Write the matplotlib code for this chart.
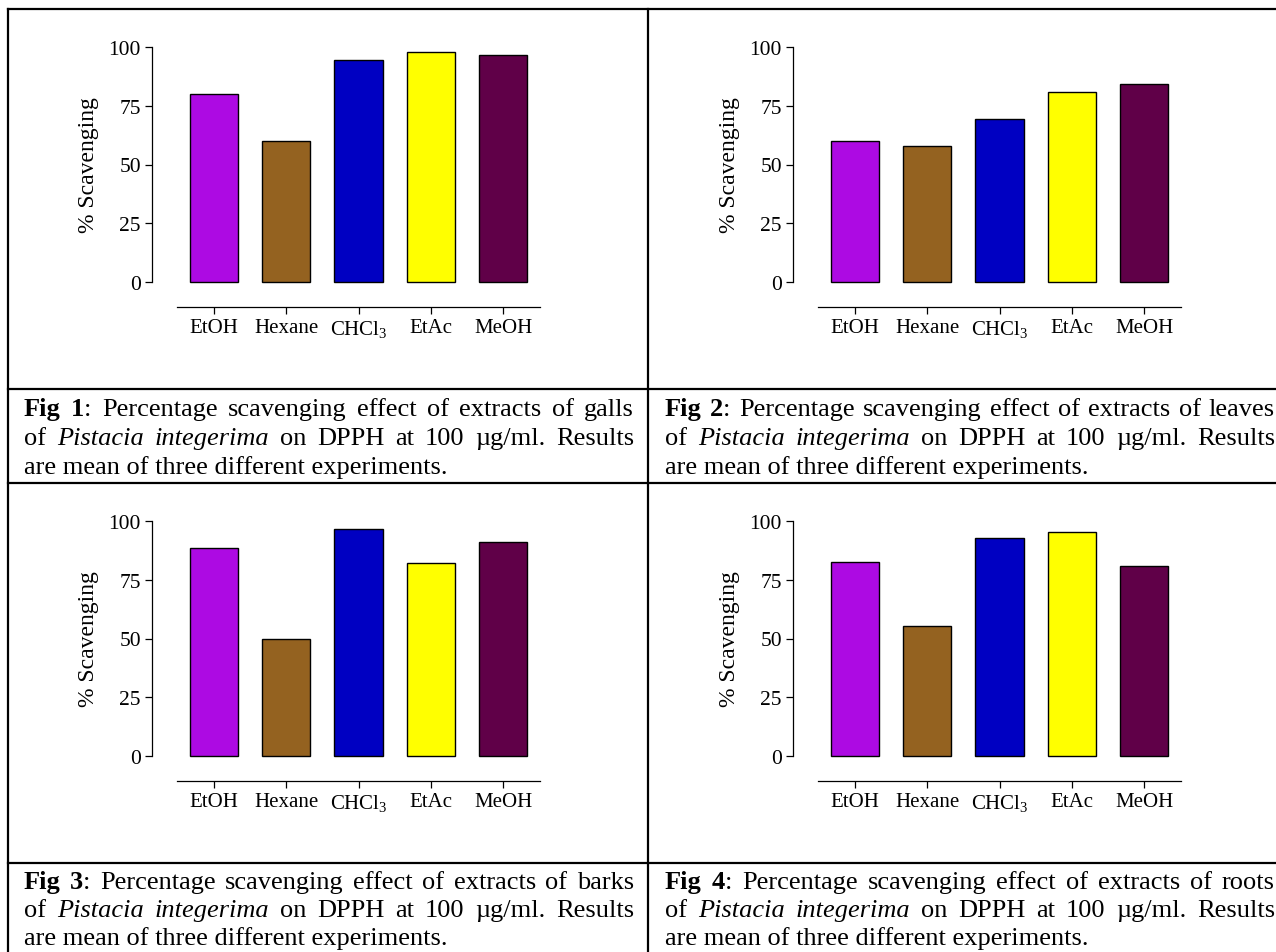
import numpy as np
import matplotlib
matplotlib.use("Agg")
import matplotlib.pyplot as plt
from matplotlib.lines import Line2D
from matplotlib.transforms import Affine2D

# --- Data ---
solvents = ["EtOH", "Hexane", "CHCl$_\\mathregular{3}$", "EtAc", "MeOH"]
bar_colors = ["#ad0ae3", "#946220", "#0000c2", "#ffff00", "#600048"]
yticks = [0, 25, 50, 75, 100]

galls = [80.1, 59.9, 94.3, 97.9, 96.5]
leaves = [60.1, 57.9, 69.4, 80.9, 84.4]
barks = [88.4, 49.9, 96.6, 82.0, 91.0]
roots = [82.6, 55.3, 92.6, 95.4, 81.0]

series = [galls, leaves, barks, roots]
parts = ["galls", "leaves", "barks", "roots"]

plt.rcParams["font.family"] = ["Liberation Serif", "DejaVu Serif"]
plt.rcParams["mathtext.fontset"] = "custom"
plt.rcParams["mathtext.rm"] = "Liberation Serif"

# --- Figure, pixel based layout (origin top-left) ---
W, H = 1276, 953
fig = plt.figure(figsize=(W / 100, H / 100), dpi=100)
px = Affine2D().scale(1 / W, -1 / H).translate(0, 1) + fig.transFigure

# table rules
for y in [10, 390, 484, 864]:
    fig.add_artist(Line2D([8, W], [y, y], transform=px, color="black", lw=1.6))
for x in [8, 648]:
    fig.add_artist(Line2D([x, x], [10, H], transform=px, color="black", lw=1.6))

# --- Charts ---
xpos = np.arange(len(solvents))
for i, vals in enumerate(series):
    dx = (i % 2) * 641
    dy = (i // 2) * 474
    left, right, top, bottom = 152 + dx, 540 + dx, 48 + dy, 283 + dy
    ax = fig.add_axes([left / W, 1 - bottom / H, (right - left) / W, (bottom - top) / H])
    ax.bar(xpos, vals, width=0.667, color=bar_colors, edgecolor="black",
           linewidth=1.0, clip_on=False)
    ax.set_xlim(-0.857, 4.509)
    ax.set_ylim(0, 100)
    ax.set_yticks(yticks)
    ax.set_xticks(xpos)
    ax.set_xticklabels(solvents)
    for s in ["top", "right"]:
        ax.spines[s].set_visible(False)
    ax.spines["left"].set_bounds(0, 100)
    ax.spines["bottom"].set_position(("outward", 18))
    ax.spines["bottom"].set_bounds(-0.51, 4.51)
    for s in ["left", "bottom"]:
        ax.spines[s].set_linewidth(0.9)
    ax.tick_params(axis="y", direction="out", length=5, width=0.9, pad=3, labelsize=15.5)
    ax.tick_params(axis="x", direction="out", length=5, width=0.9, pad=3, labelsize=15)
    ax.set_ylabel("% Scavenging", fontsize=17, labelpad=7)

# --- Captions (justified like the source document) ---
renderer = fig.canvas.get_renderer()
cap_size = 19


def justified(segs, x0, x1, ybase):
    # segs: list of words, each word a list of (text, style)
    words = []
    for word in segs:
        parts_ = []
        for txt, style in word:
            t = fig.text(0, ybase, txt, transform=px, fontsize=cap_size, va="baseline",
                         ha="left", fontweight="bold" if style == "b" else "normal",
                         fontstyle="italic" if style == "i" else "normal")
            parts_.append(t)
        words.append(parts_)
    widths = [[p.get_window_extent(renderer).width for p in w] for w in words]
    total = sum(sum(w) for w in widths)
    gap = (x1 - x0 - total) / (len(words) - 1)
    x = x0
    for w, ws in zip(words, widths):
        for p, pw in zip(w, ws):
            p.set_x(x)
            x += pw
        x += gap


def split(text, style):
    return [[(w, style)] for w in text.split()]


for i, part in enumerate(parts):
    dx = (i % 2) * 641
    dy = (i // 2) * 474
    x0, x1 = 24 + dx, 634 + dx
    base = [416, 445, 474] if i < 2 else [889, 917, 945]
    line1 = [[("Fig", "b")], [(str(i + 1), "b"), (":", "n")]] + \
        split("Percentage scavenging effect of extracts of " + part, "n")
    line2 = split("of", "n") + split("Pistacia integerima", "i") + \
        split("on DPPH at 100 \u00b5g/ml. Results", "n")
    justified(line1, x0, x1, base[0])
    justified(line2, x0, x1, base[1])
    fig.text(x0, base[2], "are mean of three different experiments.", transform=px,
             fontsize=cap_size, va="baseline", ha="left")

fig.savefig("out.png", dpi=100)
